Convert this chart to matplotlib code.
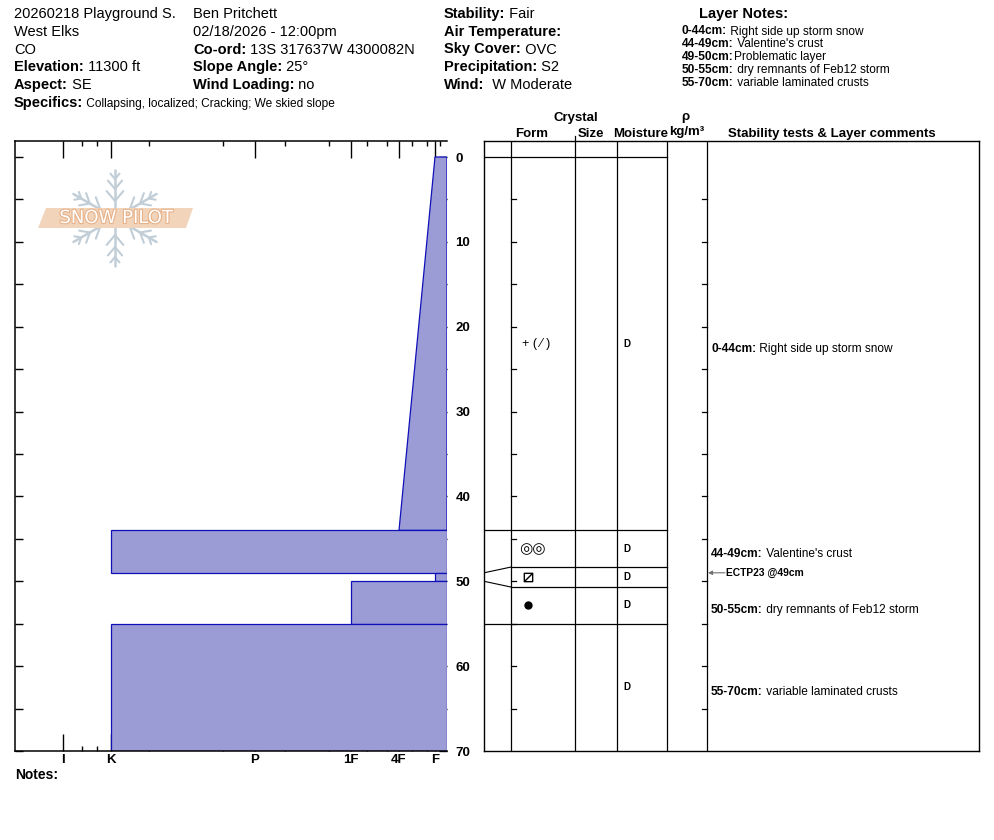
import matplotlib
matplotlib.use('Agg')
import matplotlib.pyplot as plt
from matplotlib.patches import Polygon
from matplotlib.path import Path
import matplotlib.patheffects as pe
import numpy as np

plt.rcParams['font.family'] = ['Liberation Sans', 'DejaVu Sans']

# ---------------- data ----------------
layer_top = [0, 44, 49, 50, 55]
layer_bottom = [44, 49, 50, 55, 70]
hardness_top = ['F', 'K', 'F', '1F', 'K']
hardness_bottom = ['4F', 'K', 'F', '1F', 'K']
grain_form = ['PP(DF)', 'MFcr', 'FCxr', 'RG', '']
moisture = ['D', 'D', 'D', 'D', 'D']
layer_comment = ['Right side up storm snow', "Valentine's crust", '',
                 'dry remnants of Feb12 storm', 'variable laminated crusts']
note_text = ['Right side up storm snow', "Valentine's crust", 'Problematic layer',
             'dry remnants of Feb12 storm', 'variable laminated crusts']
test_name = 'ECTP23'
test_depth = 49

hardness_labels = ['I', 'K', 'P', '1F', '4F', 'F']
hardness_values = [384, 336, 192, 96, 48, 12]
hardness_minor = [7, 20, 35, 60, 80, 118, 162, 224, 298, 350, 365]
depth_labels = [0, 10, 20, 30, 40, 50, 60, 70]

header_col1 = [('', '20260218 Playground S.'), ('', 'West Elks'), ('', 'CO'),
               ('Elevation:', ' 11300 ft'), ('Aspect:', ' SE')]
header_col2 = [('', 'Ben Pritchett'), ('', '02/18/2026 - 12:00pm'),
               ('Co-ord:', ' 13S 317637W 4300082N'), ('Slope Angle:', ' 25°'),
               ('Wind Loading:', ' no')]
header_col3 = [('Stability:', ' Fair'), ('Air Temperature:', ''), ('Sky Cover:', ' OVC'),
               ('Precipitation:', ' S2'), ('Wind:', '  W Moderate')]
specifics = 'Collapsing, localized; Cracking; We skied slope'

# ---------------- layout ----------------
W, H = 994, 840
fig = plt.figure(figsize=(W / 100, H / 100), dpi=100)
renderer = fig.canvas.get_renderer()

FILL = '#9b9bd6'
EDGE = '#1010b8'


def rect(x0, y0, w, h):
    return [x0 / W, 1 - (y0 + h) / H, w / W, h / H]


def rich(x, y, parts):
    """parts: list of (text, weight, size); y is baseline in px."""
    for txt, wt, sz in parts:
        if not txt:
            continue
        t = fig.text(x / W, 1 - y / H, txt, fontsize=sz, fontweight=wt,
                     ha='left', va='baseline')
        x += t.get_window_extent(renderer).width


# header text
base = [18, 36, 53.5, 71, 89]
for col_x, col in [(14, header_col1), (193, header_col2), (444, header_col3)]:
    for yb, (lab, val) in zip(base, col):
        rich(col_x, yb, [(lab, 'bold', 10.5), (val, 'normal', 10.5)])
rich(14, 107, [('Specifics:', 'bold', 10.5), (' ' + specifics, 'normal', 8.6)])

fig.text(744 / W, 1 - 18 / H, 'Layer Notes:', fontsize=10.5, fontweight='bold',
         ha='center', va='baseline')
for i, (t, b, nt) in enumerate(zip(layer_top, layer_bottom, note_text)):
    sep = '' if i == 2 else ' '
    rich(682, 34.5 + 12.9 * i, [(f'{t}-{b}cm:', 'bold', 8.6), (sep + nt, 'normal', 8.6)])

# ---------------- hardness profile ----------------
PX_TOP, PX_ZERO, PX_BOT = 141, 157, 751
PX_PER_CM = (PX_BOT - PX_ZERO) / 70.0
ytop = -(PX_ZERO - PX_TOP) / PX_PER_CM
hard = dict(zip(hardness_labels, hardness_values))

axL = fig.add_axes(rect(15, PX_TOP, 432, PX_BOT - PX_TOP))
axL.set_xlim(432, 0)
axL.set_ylim(70, ytop)
for t, b, ht, hb in zip(layer_top, layer_bottom, hardness_top, hardness_bottom):
    axL.add_patch(Polygon([(0, t), (hard[ht], t), (hard[hb], b), (0, b)], closed=True,
                          facecolor=FILL, edgecolor=EDGE, lw=0.9, zorder=2))
axL.set_xticks(hardness_values, hardness_labels)
axL.set_xticks(hardness_minor, minor=True)
axL.tick_params(axis='x', which='major', direction='in', length=12, width=1,
                top=True, bottom=True, labelsize=9.5, pad=2.5)
axL.tick_params(axis='x', which='minor', direction='in', length=3.5, width=1,
                top=True, bottom=True)
for lab in axL.get_xticklabels():
    lab.set_fontweight('bold')
axL.set_yticks(depth_labels, [str(d) for d in depth_labels])
axL.set_yticks(np.arange(5, 70, 10), minor=True)
axL.tick_params(axis='y', which='both', direction='in', length=5.5, width=1,
                left=True, right=True, labelleft=False, labelright=True,
                labelsize=9.5, pad=6)
for lab in axL.get_yticklabels():
    lab.set_fontweight('bold')
axL.spines['right'].set_visible(False)
for s in ['left', 'top', 'bottom']:
    axL.spines[s].set_linewidth(1.1)

# ---------------- logo ----------------
axG = fig.add_axes(rect(35, 168, 160, 100))
axG.set_xlim(-80, 80)
axG.set_ylim(-50, 50)
axG.axis('off')
SF = '#c2ced7'
for ang in [90, 30, -30, -90, 150, 210]:
    a = np.radians(ang)
    ux, uy = np.cos(a), np.sin(a)
    axG.plot([0, 48 * ux], [0, 48 * uy], color=SF, lw=1.8, solid_capstyle='round')
    for d, L in [(17, 13), (29, 11), (39, 7)]:
        px, py = d * ux, d * uy
        for s in (1, -1):
            b = a + s * np.radians(40)
            axG.plot([px, px + L * np.cos(b)], [py, py + L * np.sin(b)],
                     color=SF, lw=1.5, solid_capstyle='round')
axG.add_patch(Polygon([(-77, -10), (-69, 10), (78, 10), (71, -10)], closed=True,
                      facecolor='#f2d4bb', edgecolor='none', zorder=5))
axG.text(1, 0, 'SNOW PILOT', color='white', fontsize=13, ha='center', va='center',
         family='DejaVu Sans', zorder=6,
         path_effects=[pe.withStroke(linewidth=1.6, foreground='#e7b188')])

fig.text(15 / W, 1 - 779 / H, 'Notes:', fontsize=10, fontweight='bold',
         ha='left', va='baseline')

# ---------------- table ----------------
axT = fig.add_axes(rect(484, PX_TOP, 495, PX_BOT - PX_TOP))
axT.set_xlim(0, 495)
axT.set_ylim(70, ytop)
axT.set_xticks([])
axT.set_yticks([])
for s in axT.spines.values():
    s.set_linewidth(1.0)

COLS = [27, 91, 133, 183, 223]
for cx in COLS:
    axT.plot([cx, cx], [ytop, 70], color='black', lw=0.9)
axT.plot([91, 91], [ytop, ytop - 0.6], color='black', lw=0.9, clip_on=False)

# displayed row boundaries (thin layers get a minimum row height)
MIN_ROW = 20 / PX_PER_CM
bounds = list(layer_top) + [layer_bottom[-1]]
disp = list(bounds)
for i, (t, b) in enumerate(zip(layer_top, layer_bottom)):
    if b - t < MIN_ROW:
        m = (t + b) / 2
        disp[i] = m - MIN_ROW / 2
        disp[i + 1] = m + MIN_ROW / 2
for actual, shown in zip(bounds[:-1], disp[:-1]):
    if abs(actual - shown) < 1e-6:
        axT.plot([0, 183], [shown, shown], color='black', lw=0.9)
    else:
        axT.plot([27, 183], [shown, shown], color='black', lw=0.9)
        axT.plot([0, 27], [actual, shown], color='black', lw=0.8)

for d in np.arange(5, 70, 5):
    axT.plot([27, 32], [d, d], color='black', lw=0.9)
    axT.plot([218, 223], [d, d], color='black', lw=0.9)

mids = [(disp[i] + disp[i + 1]) / 2 for i in range(len(layer_top))]

sq_slash = Path([(-1, -1), (1, -1), (1, 1), (-1, 1), (-1, -1), (-1, -1), (1, 1)],
                [Path.MOVETO, Path.LINETO, Path.LINETO, Path.LINETO, Path.CLOSEPOLY,
                 Path.MOVETO, Path.LINETO])
for m, g, mo in zip(mids, grain_form, moisture):
    if g == 'PP(DF)':
        axT.text(52, m, '+ ( ⁄ )', fontsize=9, ha='center', va='center',
                 family=['Liberation Sans', 'DejaVu Sans'])
    elif g == 'MFcr':
        axT.text(48, m, '◎◎', fontsize=11, ha='center', va='center',
                 family=['DejaVu Sans'])
    elif g == 'FCxr':
        axT.plot([44], [m], marker=sq_slash, ms=6, mfc='none', mec='black', mew=1.0)
    elif g == 'RG':
        axT.plot([44], [m], marker='o', ms=5, color='black')
    axT.text(143, m, mo, fontsize=7, fontweight='bold', ha='center', va='center')

for t, b, m, c in zip(layer_top, layer_bottom, mids, layer_comment):
    if not c:
        continue
    yy = m + 5 / PX_PER_CM
    x = 227
    tt = axT.text(x, yy, f'{t}-{b}cm:', fontsize=8.6, fontweight='bold',
                  ha='left', va='center')
    w = tt.get_window_extent(renderer).width
    axT.text(x + w, yy, ' ' + c, fontsize=8.6, ha='left', va='center')

axT.annotate('', xy=(224, test_depth), xytext=(241, test_depth),
             arrowprops=dict(arrowstyle='-|>', color='#707070', lw=0.8,
                             mutation_scale=6, shrinkA=0, shrinkB=0))
axT.text(242, test_depth, f'{test_name} @{test_depth}cm', fontsize=7.4,
         fontweight='bold', ha='left', va='center')

# table headers
hdr = [(576, 121.5, 'Crystal'), (532, 137, 'Form'), (591, 137, 'Size'),
       (641, 137, 'Moisture'), (685, 120, 'ρ'), (687, 135, 'kg/m³'),
       (832, 137, 'Stability tests & Layer comments')]
for x, y, s in hdr:
    fig.text(x / W, 1 - y / H, s, fontsize=9.5, fontweight='bold',
             ha='center', va='baseline')

fig.savefig('out.png', dpi=100)
